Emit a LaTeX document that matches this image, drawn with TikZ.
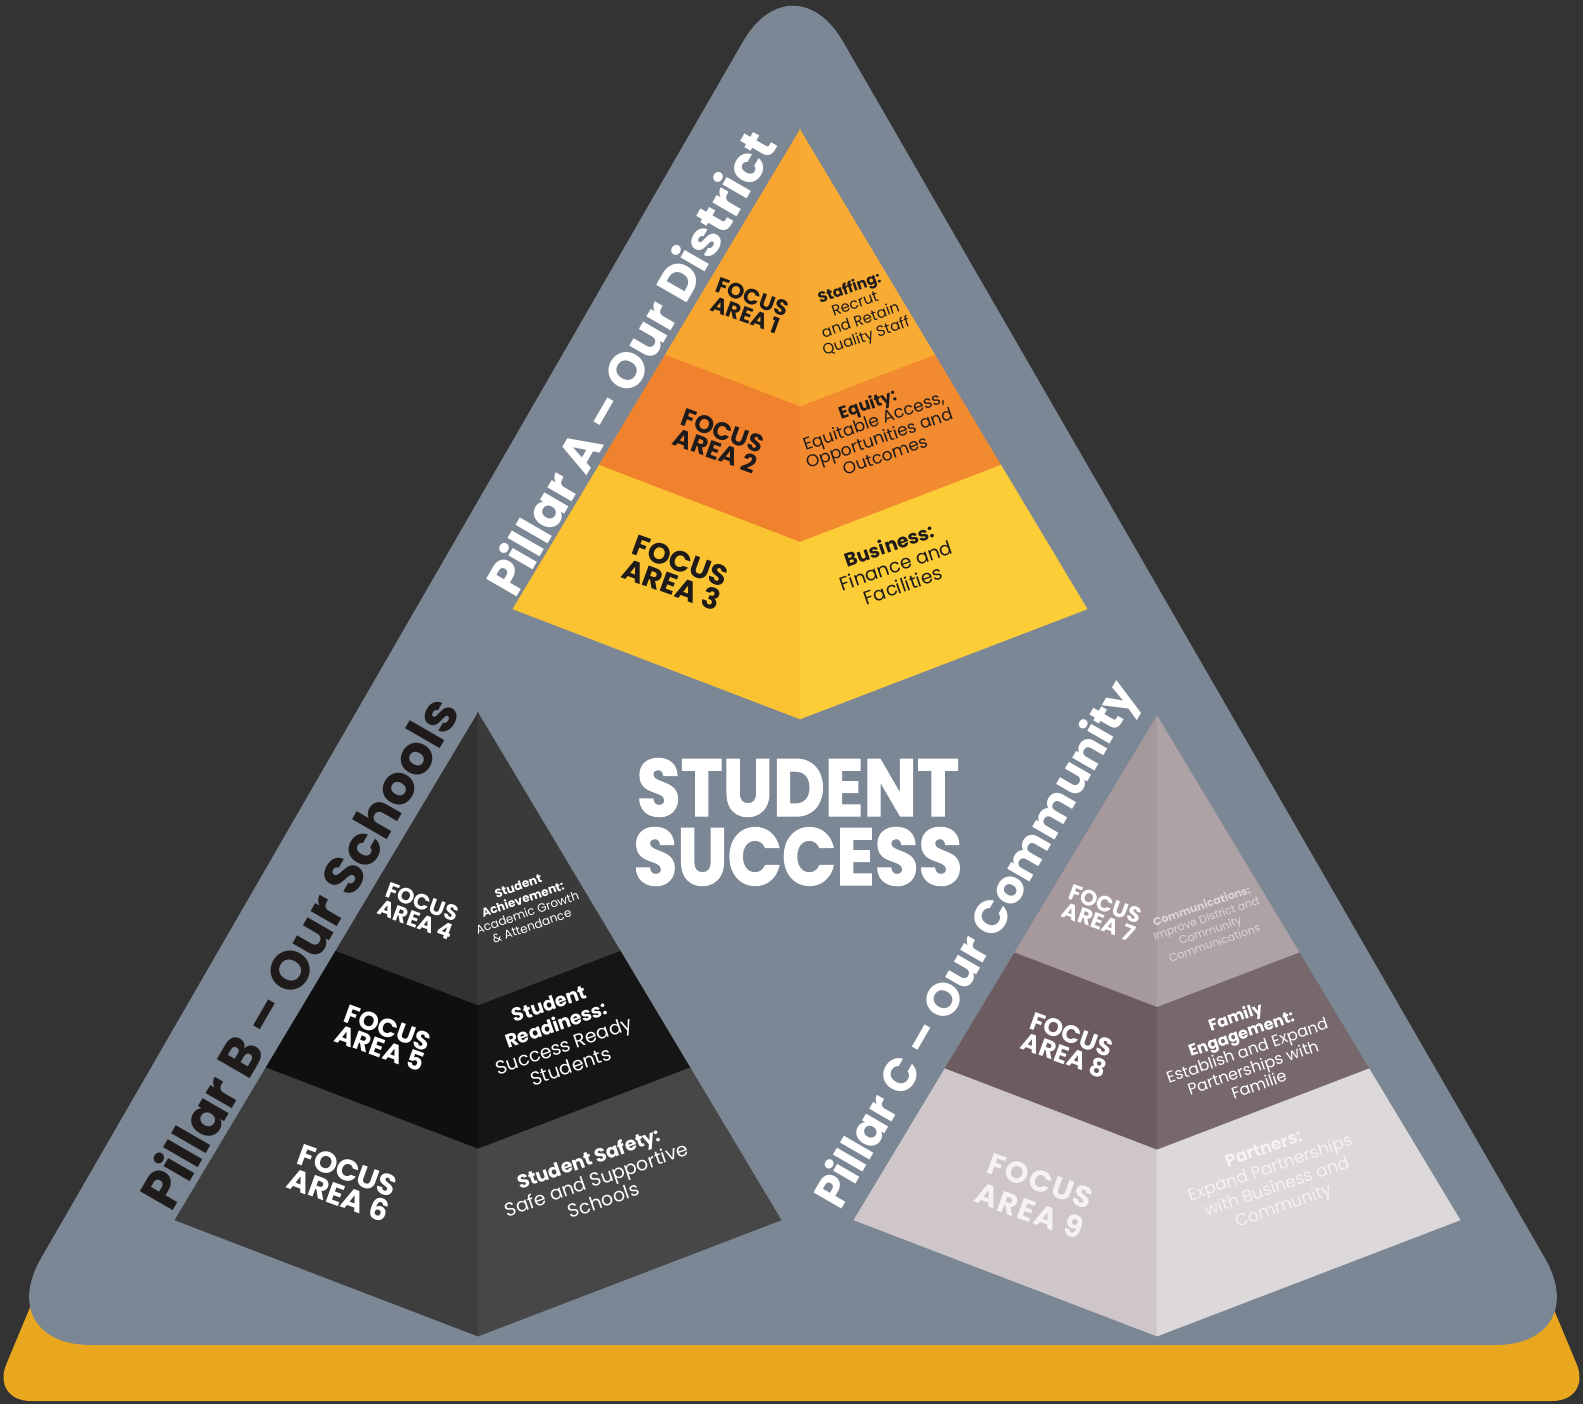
\documentclass[tikz,border=0pt]{standalone}
\usepackage{fontspec}
\setmainfont{Poppins}
\newfontfamily\heavyfont{Poppins}[BoldFeatures={FakeBold=1.6}]
\newfontfamily\spacedfont{Poppins}[LetterSpace=6]
\definecolor{bgc}{HTML}{333333}
\definecolor{slate}{HTML}{7B8795}
\definecolor{gold}{HTML}{E9A71F}
\definecolor{ink}{HTML}{1E1B1A}
\definecolor{aL1}{HTML}{F8A530}\definecolor{aR1}{HTML}{F9AC33}
\definecolor{aL2}{HTML}{F0822D}\definecolor{aR2}{HTML}{F28A2F}
\definecolor{aL3}{HTML}{FBC331}\definecolor{aR3}{HTML}{FDCD38}
\definecolor{bL1}{HTML}{323232}\definecolor{bR1}{HTML}{3A3A3A}
\definecolor{bL2}{HTML}{0F0F0F}\definecolor{bR2}{HTML}{151515}
\definecolor{bL3}{HTML}{3E3E3E}\definecolor{bR3}{HTML}{474747}
\definecolor{cL1}{HTML}{A5999C}\definecolor{cR1}{HTML}{ADA2A5}
\definecolor{cL2}{HTML}{6C5C60}\definecolor{cR2}{HTML}{77686C}
\definecolor{cL3}{HTML}{CEC6C8}\definecolor{cR3}{HTML}{DDD8D9}
\definecolor{faintA}{HTML}{DCD6D8}
\definecolor{faintB}{HTML}{F4F2F2}
\newcommand{\facefill}[2]{\filldraw[fill=#1,draw=#1,line width=0.6pt] #2;}
\newcommand{\drawpyr}[5]{%
 \pgfmathsetmacro{\pX}{#1}\pgfmathsetmacro{\pY}{#2}\pgfmathsetmacro{\pH}{#3}%
 \pgfmathsetmacro{\pW}{#4}\pgfmathsetmacro{\pD}{0.383*#4}%
 \pgfmathsetmacro{\aY}{\pY+0.47*\pH}\pgfmathsetmacro{\aC}{\pY+0.47*(\pH+\pD)}\pgfmathsetmacro{\aW}{0.47*\pW}%
 \pgfmathsetmacro{\bY}{\pY+0.70*\pH}\pgfmathsetmacro{\bC}{\pY+0.70*(\pH+\pD)}\pgfmathsetmacro{\bW}{0.70*\pW}%
 \pgfmathsetmacro{\cY}{\pY+\pH}\pgfmathsetmacro{\cC}{\pY+\pH+\pD}%
 \facefill{#5L1}{(\pX,\pY) -- (\pX-\aW,\aY) -- (\pX,\aC) -- cycle}
 \facefill{#5R1}{(\pX,\pY) -- (\pX+\aW,\aY) -- (\pX,\aC) -- cycle}
 \facefill{#5L2}{(\pX,\aC) -- (\pX-\aW,\aY) -- (\pX-\bW,\bY) -- (\pX,\bC) -- cycle}
 \facefill{#5R2}{(\pX,\aC) -- (\pX+\aW,\aY) -- (\pX+\bW,\bY) -- (\pX,\bC) -- cycle}
 \facefill{#5L3}{(\pX,\bC) -- (\pX-\bW,\bY) -- (\pX-\pW,\cY) -- (\pX,\cC) -- cycle}
 \facefill{#5R3}{(\pX,\bC) -- (\pX+\bW,\bY) -- (\pX+\pW,\cY) -- (\pX,\cC) -- cycle}
}
\tikzset{
 fa/.style={align=center, inner sep=0pt, rotate=-20},
 desc/.style={align=center, inner sep=0pt, rotate=19},
 pill/.style={inner sep=0pt, rotate=60},
}
\newcommand{\fsz}[2]{\fontsize{#1}{#2}\selectfont}
\begin{document}
\begin{tikzpicture}[x=1pt,y=-1pt]
\useasboundingbox (0,0) rectangle (1583,1404);
\fill[bgc] (0,0) rectangle (1583,1404);
% gold base and slate triangle
\fill[gold, rounded corners=40pt] (54,1250) -- (-9,1401) -- (1592,1401) -- (1529,1250) -- cycle;
\fill[slate, rounded corners=100pt] (793,-45) -- (1595,1345) -- (-9,1345) -- cycle;
% pyramids
\drawpyr{800}{130}{479}{287}{a}
\drawpyr{478}{713}{507}{303}{b}
\drawpyr{1157}{716}{504}{303}{c}
% pillar labels
\node[pill, text=white, font=\fsz{50}{50}\bfseries] (pa) at (630,362) {Pillar A – Our District};
\node[pill, text=ink, font=\fsz{54}{54}\bfseries] (pb) at (298,952) {Pillar B – Our Schools};
\node[pill, text=white, font=\fsz{46}{46}\bfseries] (pc) at (979,946) {Pillar C – Our Community};
% centre title
\node[text=white, align=center, inner sep=0pt, xscale=0.88, transform shape, font=\heavyfont\fsz{81}{69}\bfseries] (ss) at (798,822) {STUDENT\\SUCCESS};
% pyramid A
\node[fa, text=ink, font=\fsz{22}{19}\bfseries] (fa1) at (749,306) {FOCUS\\AREA 1};
\node[desc, text=ink, font=\fsz{15}{17}] (d1) at (858,313) {\textbf{Staffing:}\\Recrut\\and Retain\\Quality Staff};
\node[fa, text=ink, font=\fsz{25}{21}\bfseries] (fa2) at (719,441) {FOCUS\\AREA 2};
\node[desc, text=ink, font=\fsz{17}{18}] (d2) at (876,429) {\textbf{Equity:}\\Equitable Access,\\Opportunities and\\Outcomes};
\node[fa, text=ink, font=\fsz{29}{25}\bfseries] (fa3) at (676,573) {FOCUS\\AREA 3};
\node[desc, text=ink, font=\fsz{19}{21}] (d3) at (896,565) {\textbf{Business:}\\Finance and\\Facilities};
% pyramid B
\node[fa, text=white, font=\fsz{22}{19}\bfseries] (fa4) at (419,911) {FOCUS\\AREA 4};
\node[desc, text=white, font=\fsz{12}{14}] (d4) at (525,906) {\textbf{Student}\\\textbf{Achievement:}\\Academic Growth\\\& Attendance};
\node[fa, text=white, font=\fsz{26}{22}\bfseries] (fa5) at (384,1038) {FOCUS\\AREA 5};
\node[desc, text=white, font=\fsz{19}{22}] (d5) at (560,1035) {\textbf{Student}\\\textbf{Readiness:}\\Success Ready\\Students};
\node[fa, text=white, font=\fsz{30}{26}\bfseries] (fa6) at (343,1183) {FOCUS\\AREA 6};
\node[desc, text=white, font=\fsz{19}{22}] (d6) at (596,1179) {\textbf{Student Safety:}\\Safe and Supportive\\Schools};
% pyramid C
\node[fa, text=white, font=\fsz{22}{19}\bfseries] (fa7) at (1102,913) {FOCUS\\AREA 7};
\node[desc, text=faintA, font=\fsz{11}{13}] (d7) at (1208,924) {\textbf{Communications:}\\Improve District and\\Community\\Communications};
\node[fa, text=white, font=\fsz{25}{22}\bfseries] (fa8) at (1068,1045) {FOCUS\\AREA 8};
\node[desc, text=white, font=\fsz{16}{18}] (d8) at (1247,1050) {\textbf{Family}\\\textbf{Engagement:}\\Establish and Expand\\Partnerships with\\Familie};
\node[fa, text=faintB, font=\spacedfont\fsz{30}{32}\bfseries] (fa9) at (1035,1196) {FOCUS\\AREA 9};
\node[desc, text=faintB, font=\fsz{17}{20}] (d9) at (1274,1179) {\textbf{Partners:}\\Expand Partnerships\\with Business and\\Community};
\end{tikzpicture}
\end{document}
